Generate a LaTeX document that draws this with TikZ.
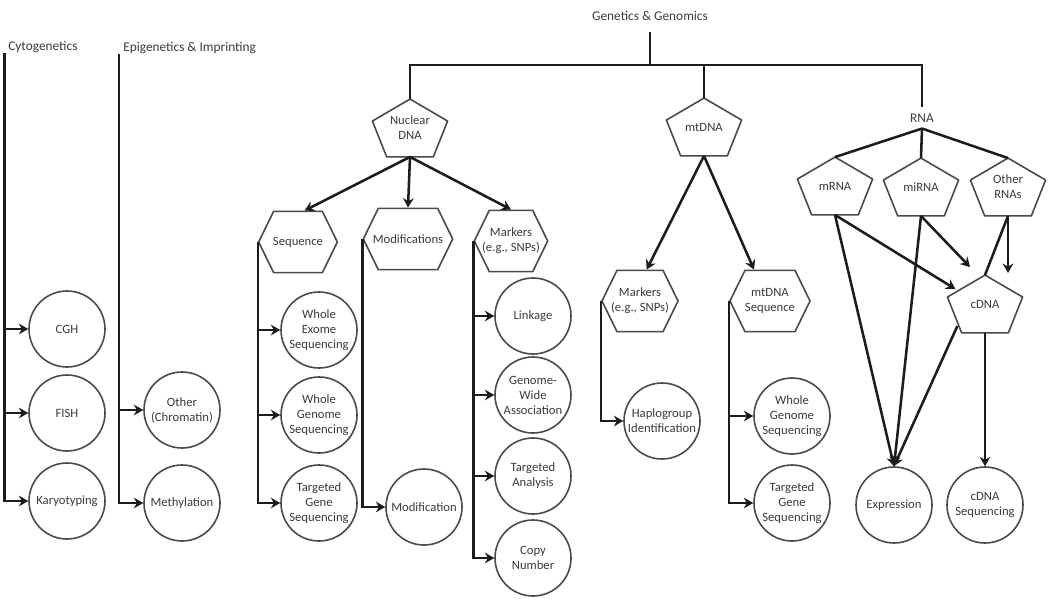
\documentclass[tikz,border=0pt]{standalone}
\usepackage{fontspec}
\setmainfont{Carlito}
\usepackage{tikz}
\usetikzlibrary{arrows.meta,calc,shapes.symbols}
\definecolor{gline}{HTML}{1C1C1C}
\definecolor{gshape}{HTML}{4A4A4A}
\definecolor{gtext}{HTML}{3A3A3A}
\tikzset{
  leaf/.style={circle,draw=gshape,line width=1.2pt,minimum size=57pt,inner sep=-2pt,align=center,font=\fontsize{9.5}{11.25}\selectfont,text=gtext},
  hexa/.style={signal,signal to=west and east,signal pointer angle=128,draw=gshape,line width=1.2pt,inner xsep=-14pt,inner ysep=0pt,minimum height=46pt,align=center,font=\fontsize{9.5}{11.25}\selectfont,text=gtext},
  penta/.style={rectangle,inner sep=0pt,minimum width=56pt,minimum height=43pt,align=center,font=\fontsize{9.5}{11.25}\selectfont,text=gtext},
  title/.style={font=\fontsize{10}{12}\selectfont,text=gtext,inner sep=0pt},
  arr/.style={-{Stealth[length=7pt,width=8pt]},line width=1.9pt,draw=gline},
  trunk/.style={line width=1.9pt,draw=gline},
}
\newcommand{\pentframe}[1]{\draw[draw=gshape,line width=1.2pt,line join=round] (#1.north) -- ($(#1.north east)!0.38!(#1.south east)$) -- ($(#1.south west)!0.81!(#1.south east)$) -- ($(#1.south west)!0.19!(#1.south east)$) -- ($(#1.north west)!0.38!(#1.south west)$) -- cycle;}
\begin{document}
\begin{tikzpicture}[x=0.75pt,y=-0.75pt]
  \useasboundingbox (0,0) rectangle (1050,610);
  \node[title,inner ysep=8pt] (gen) at (650,16) {Genetics \& Genomics};
  \node[title,anchor=west] (cyto) at (8,47) {Cytogenetics};
  \node[title,anchor=west] (epi) at (123,48) {Epigenetics \& Imprinting};

  \node[leaf] (cgh) at (67,329) {CGH};
  \node[leaf] (fish) at (67,413) {FISH};
  \node[leaf] (karyo) at (67,501) {Karyotyping};
  \draw[arr] ([xshift=-2.5pt]cyto.south west) |- (cgh); \draw[arr] ([xshift=-2.5pt]cyto.south west) |- (fish); \draw[arr] ([xshift=-2.5pt]cyto.south west) |- (karyo);

  \node[leaf] (chrom) at (182,410) {Other\\(Chromatin)};
  \node[leaf] (methyl) at (182,503) {Methylation};
  \draw[arr] ([xshift=-3pt]epi.south west) |- (chrom); \draw[arr] ([xshift=-3pt]epi.south west) |- (methyl);

  \node[penta] (nuc) at (410,128) {Nuclear\\DNA};
  \node[penta] (mt) at (704,127) {mtDNA};
  \node[title,inner sep=4.5pt] (rna) at (922,118) {RNA};
  \pentframe{nuc} \pentframe{mt}
  \coordinate (hub) at (650,65);
  \draw[trunk] (gen.south) -- (hub);
  \draw[trunk] (nuc.north) -- (nuc.north |- hub) -- (rna.north |- hub) -- (rna.north);
  \draw[trunk] (mt.north) -- (mt.north |- hub);

  \node[hexa,minimum width=59pt] (seq) at (298,242) {Sequence};
  \node[hexa,minimum width=67pt] (mods) at (408,239) {Modifications};
  \node[hexa,minimum width=55pt] (nmark) at (511,241) {Markers\\(e.g., SNPs)};
  \draw[arr] (nuc.south) -- ([xshift=5pt]seq.north); \draw[arr] (nuc.south) -- (mods.north); \draw[arr] (nuc.south) -- (nmark.north);

  \node[leaf] (wes) at (319,330) {Whole\\Exome\\Sequencing};
  \node[leaf] (wgs) at (319,415) {Whole\\Genome\\Sequencing};
  \node[leaf] (tgs) at (319,503) {Targeted\\Gene\\Sequencing};
  \draw[arr] (seq.west) |- (wes); \draw[arr] (seq.west) |- (wgs); \draw[arr] (seq.west) |- (tgs);

  \node[leaf] (modn) at (424,507) {Modification};
  \draw[arr] (mods.west) |- (modn);

  \node[leaf] (link) at (533,316) {Linkage};
  \node[leaf] (gwas) at (533,395) {Genome-\\Wide\\Association};
  \node[leaf] (tana) at (533,476) {Targeted\\Analysis};
  \node[leaf] (copy) at (533,558) {Copy\\Number};
  \draw[arr] (nmark.west) |- (link); \draw[arr] (nmark.west) |- (gwas); \draw[arr] (nmark.west) |- (tana); \draw[arr] (nmark.west) |- (copy);

  \node[hexa,minimum width=57pt] (mmark) at (640,301) {Markers\\(e.g., SNPs)};
  \node[hexa,minimum width=60pt] (mseq) at (770,301) {mtDNA\\Sequence};
  \draw[arr] (mt.south) -- ([xshift=5pt]mmark.north); \draw[arr] (mt.south) -- ([xshift=-12pt]mseq.north);

  \node[leaf] (haplo) at (662,421) {Haplogroup\\Identification};
  \draw[arr] (mmark.west) |- (haplo);
  \node[leaf] (mwgs) at (792,416) {Whole\\Genome\\Sequencing};
  \node[leaf] (mtgs) at (792,503) {Targeted\\Gene\\Sequencing};
  \draw[arr] (mseq.west) |- (mwgs); \draw[arr] (mseq.west) |- (mtgs);

  \node[penta] (mrna) at (835,186) {mRNA};
  \node[penta] (mirna) at (921,187) {miRNA};
  \node[penta] (ornas) at (1008,187) {Other\\RNAs};
  \node[penta] (cdna) at (985,304) {cDNA};
  \pentframe{mrna} \pentframe{mirna} \pentframe{ornas} \pentframe{cdna}
  \draw[trunk] (rna.south) -- (mrna.north); \draw[trunk] (rna.south) -- (mirna.north); \draw[trunk] (rna.south) -- (ornas.north);

  \node[leaf] (expr) at (894,505) {Expression};
  \node[leaf] (cseq) at (985,505) {cDNA\\Sequencing};
  \coordinate (ornend) at ($(ornas.south)+(0,57)$);
  \draw[arr] (mrna.south) -- ($(cdna.north west)+(8,14)$); \draw[arr] (mrna.south) -- (expr.north);
  \draw[arr] (mirna.south) -- ($(cdna.north)+(-15,-8)$); \draw[arr] (mirna.south) -- (expr.north);
  \draw[arr] (ornas.south) -- (ornend); \draw[trunk] (ornas.south) -- (cdna.north);
  \draw[arr] ($(cdna.south west)+(10,-7)$) -- (expr.north);
  \draw[arr] (cdna.south) -- (cseq.north);
\end{tikzpicture}
\end{document}
